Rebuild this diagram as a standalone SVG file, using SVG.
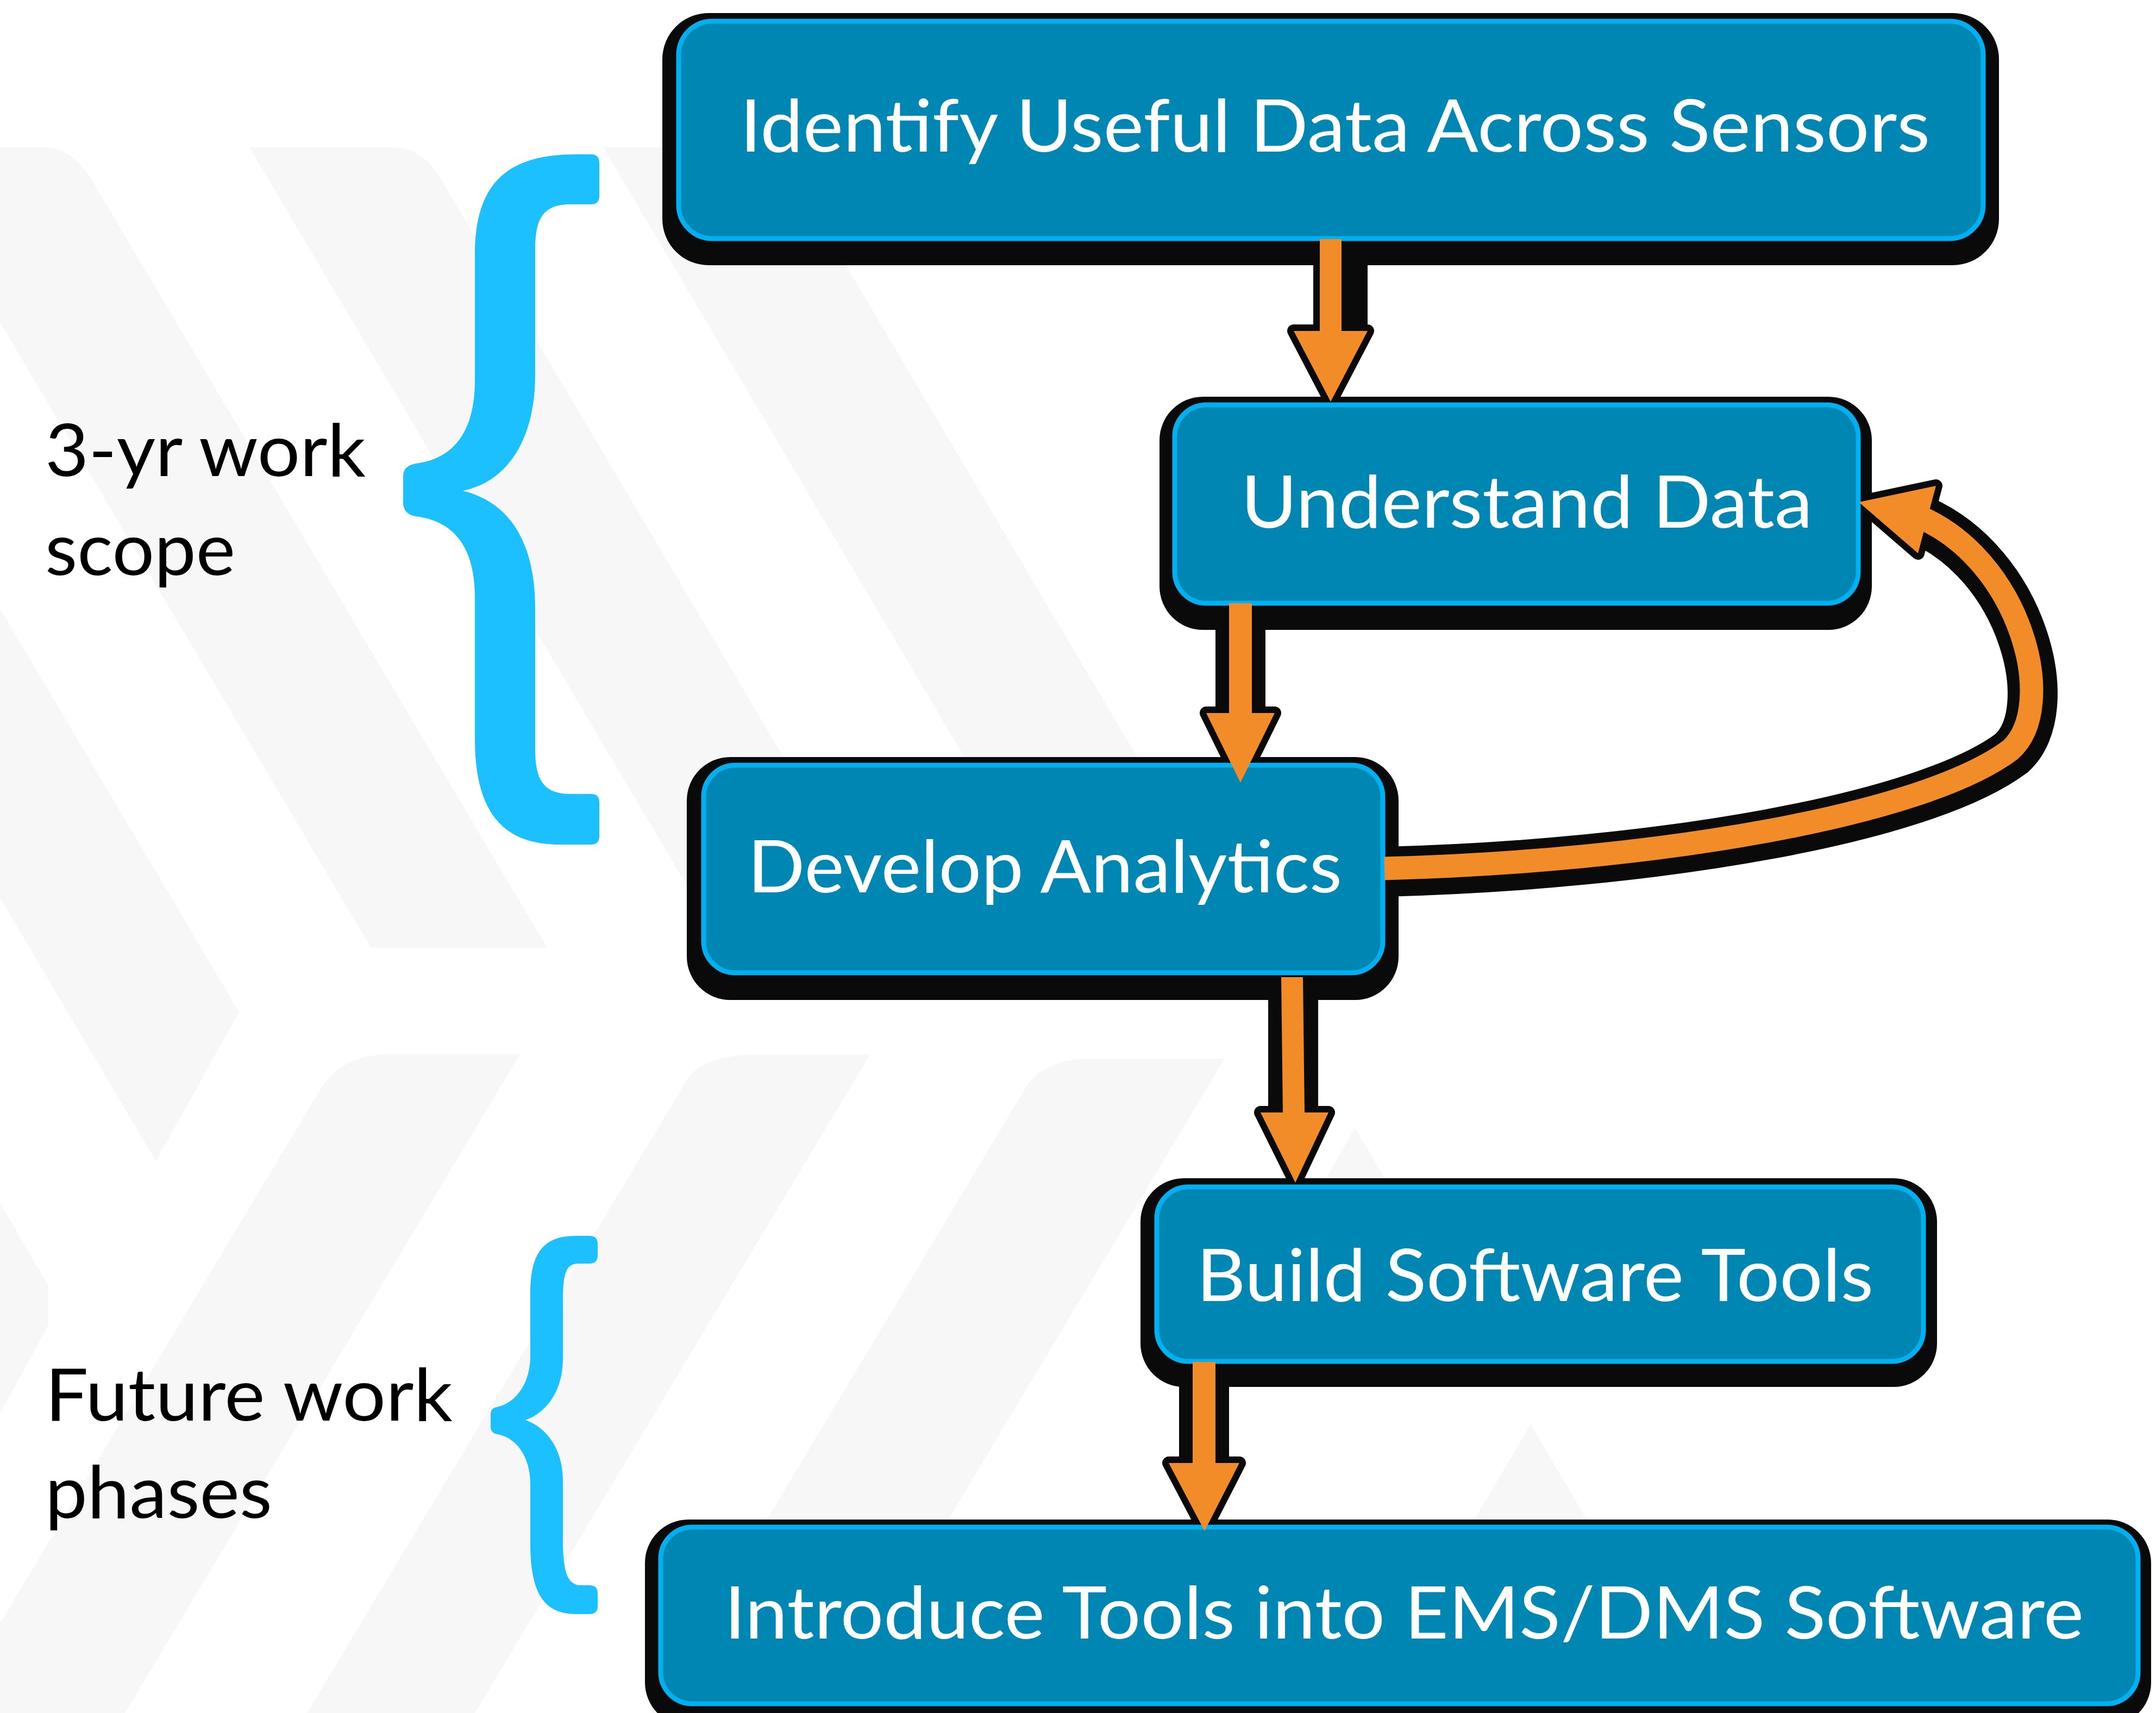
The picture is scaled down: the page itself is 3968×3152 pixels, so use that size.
<svg xmlns="http://www.w3.org/2000/svg" width="3968" height="3152" viewBox="0 0 3968 3152">
<style>
.bg{fill:#F7F7F7}
.shadow{fill:#0A0A0A}
.box{fill:#0086B3;stroke:#00B0F0;stroke-width:9}
.btxt{font-family:Lato,"Open Sans","Noto Sans",sans-serif;font-size:134px;fill:#FFFFFF}
.lbl{font-family:Lato,"Open Sans","Noto Sans",sans-serif;font-size:134px;fill:#000000}
.brace{fill:#1DC0FE}
.ash{fill:#0A0A0A;stroke:#0A0A0A;stroke-width:24;stroke-linejoin:round}
.arr{fill:#F28C28}
.fsh{fill:none;stroke:#0A0A0A;stroke-width:92}
.fline{fill:none;stroke:#F28C28;stroke-width:43}
</style>
<rect width="3968" height="3152" fill="#FFFFFF"/>
<g id="background">
<path class="bg" d="M0 271 L80 271 Q133 271 170 333 L1007 1744 L683 1744 L0 593 Z"/>
<path class="bg" d="M459 271 L720 271 Q777 271 810 327 L1650 1744 L1332 1744 Z"/>
<path class="bg" d="M1110 271 L1370 271 Q1428 271 1460 325 L2301 1744 L1983 1744 Z"/>
<path class="bg" d="M0 1120 L440 1862 L287 2137 L0 1652 Z"/>
<path class="bg" d="M0 2213 L89 2366 L89 2438 L0 2601 Z"/>
<path class="bg" d="M587 2009 Q628 1940 714 1940 L957 1940 L230 3152 L-99 3152 Z"/>
<path class="bg" d="M1263 1989 Q1292 1941 1390 1941 L1601 1941 L874 3152 L565 3152 Z"/>
<path class="bg" d="M1888 2001 Q1920 1948 2012 1948 L2254 1948 L1532 3152 L1198 3152 Z"/>
<path class="bg" d="M2494 2075 L2575 2212 L2415 2212 Z"/>
<path class="bg" d="M2817 2621 L2930 2812 L2704 2812 Z"/>
</g>
<g id="brace-scope">
<path class="brace" d="M1060 284 L1088 284 Q1103 284 1103 300 L1103 360 Q1103 376 1088 376 L1046 376 C1000 378 985 400 985 460 L985 690 C985 800 940 885 852 903 C940 925 985 1000 985 1120 L985 1380 C985 1440 1005 1461 1050 1461 L1088 1461 Q1103 1461 1103 1476 L1103 1538 Q1103 1554 1088 1554 L1030 1554 C930 1554 874 1500 874 1360 L874 1100 C874 1000 830 958 765 950 Q742 946 742 925 L742 876 Q742 857 765 853 C830 845 874 800 874 700 L874 470 C874 340 930 284 1060 284 Z"/>
<text class="lbl" x="83" y="876" textLength="590" lengthAdjust="spacingAndGlyphs">3-yr work</text>
<text class="lbl" x="83" y="1058" textLength="350" lengthAdjust="spacingAndGlyphs">scope</text>
</g>
<g id="brace-future">
<path class="brace" d="M1060 2274 L1085 2274 Q1100 2274 1100 2289 L1100 2310 Q1100 2325 1085 2325 L1065 2325 C1040 2325 1036 2345 1036 2400 L1036 2500 C1036 2560 1005 2600 967 2613 C1005 2626 1036 2665 1036 2725 L1036 2830 C1036 2895 1045 2917 1070 2917 L1085 2917 Q1100 2917 1100 2932 L1100 2955 Q1100 2970 1085 2970 L1060 2970 C1000 2970 976 2930 976 2840 L976 2730 C976 2680 950 2645 915 2639 Q903 2637 903 2625 L903 2602 Q903 2591 915 2589 C950 2581 976 2545 976 2495 L976 2380 C976 2305 1000 2274 1060 2274 Z"/>
<text class="lbl" x="83" y="2614" textLength="750" lengthAdjust="spacingAndGlyphs">Future work</text>
<text class="lbl" x="83" y="2793" textLength="418" lengthAdjust="spacingAndGlyphs">phases</text>
</g>
<g id="connector-shadows">
<rect class="shadow" x="2425" y="440" width="92" height="180"/>
<path class="ash" d="M2429 440 L2469 440 L2469 609 L2517 609 L2449 739 L2381 609 L2429 609 Z"/>
<rect class="shadow" x="2237" y="1110" width="92" height="210"/>
<path class="ash" d="M2262 1110 L2304 1110 L2304 1312 L2346 1312 L2283 1440 L2220 1312 L2262 1312 Z"/>
<rect class="shadow" x="2334" y="1798" width="92" height="255"/>
<path class="ash" d="M2358 1798 L2398 1798 L2401 2047 L2445 2047 L2384 2176 L2320 2047 L2361 2047 Z"/>
<rect class="shadow" x="2170" y="2506" width="92" height="192"/>
<path class="ash" d="M2195 2506 L2237 2506 L2237 2692 L2281 2692 L2217 2817 L2151 2692 L2195 2692 Z"/>
<path class="fsh" transform="translate(2,6)" d="M2548 1598 C3050 1585 3540 1500 3700 1380 C3790 1300 3720 1030 3530 950"/>
<path class="ash" d="M3421 924 L3563 894 L3530 1018 Z"/>
</g>
<g id="node-identify">
<rect class="shadow" x="1219" y="24" width="2460" height="464" rx="85"/>
<rect class="box" x="1249" y="39" width="2401" height="400" rx="62"/>
<text class="btxt" x="1362" y="279" textLength="2190" lengthAdjust="spacingAndGlyphs">Identify Useful Data Across Sensors</text>
</g>
<g id="node-understand">
<rect class="shadow" x="2134" y="730" width="1311" height="429" rx="80"/>
<rect class="box" x="2162" y="745" width="1258" height="365" rx="58"/>
<text class="btxt" x="2284" y="971" textLength="1052" lengthAdjust="spacingAndGlyphs">Understand Data</text>
</g>
<g id="node-develop">
<rect class="shadow" x="1264" y="1393" width="1310" height="447" rx="80"/>
<rect class="box" x="1295" y="1408" width="1250" height="382" rx="58"/>
<text class="btxt" x="1376" y="1642" textLength="1094" lengthAdjust="spacingAndGlyphs">Develop Analytics</text>
</g>
<g id="node-build">
<rect class="shadow" x="2099" y="2168" width="1466" height="384" rx="80"/>
<rect class="box" x="2129" y="2184" width="1411" height="321" rx="58"/>
<text class="btxt" x="2202" y="2394" textLength="1246" lengthAdjust="spacingAndGlyphs">Build Software Tools</text>
</g>
<g id="node-introduce">
<rect class="shadow" x="1187" y="2796" width="2772" height="380" rx="80"/>
<rect class="box" x="1216" y="2810" width="2719" height="325" rx="58"/>
<text class="btxt" x="1333" y="3015" textLength="2502" lengthAdjust="spacingAndGlyphs">Introduce Tools into EMS/DMS Software</text>
</g>
<g id="connectors">
<path class="arr" d="M2429 440 L2469 440 L2469 609 L2517 609 L2449 739 L2381 609 L2429 609 Z"/>
<path class="arr" d="M2262 1110 L2304 1110 L2304 1312 L2346 1312 L2283 1440 L2220 1312 L2262 1312 Z"/>
<path class="arr" d="M2358 1798 L2398 1798 L2401 2047 L2445 2047 L2384 2176 L2320 2047 L2361 2047 Z"/>
<path class="arr" d="M2195 2506 L2237 2506 L2237 2692 L2281 2692 L2217 2817 L2151 2692 L2195 2692 Z"/>
<path class="fline" d="M2548 1598 C3050 1585 3540 1500 3700 1380 C3790 1300 3720 1030 3530 950"/>
<path class="arr" d="M3421 924 L3563 894 L3530 1018 Z"/>
</g>
</svg>
